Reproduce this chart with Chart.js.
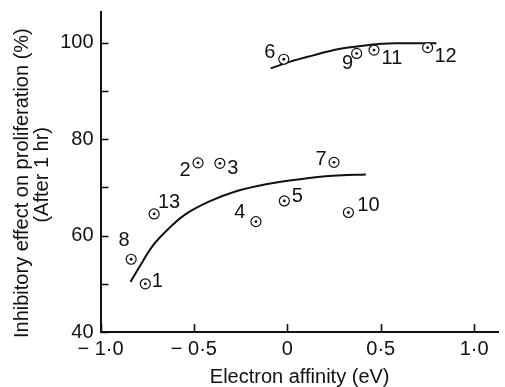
<!DOCTYPE html>
<html>
<head>
<meta charset="utf-8">
<script src="https://cdn.jsdelivr.net/npm/chart.js@4.4.0/dist/chart.umd.min.js"></script>
<style>
  html, body { margin: 0; padding: 0; background: #fff; }
  #wrap { width: 505px; height: 387px; }
</style>
</head>
<body>
<div id="wrap"><canvas id="chart" width="505" height="387"></canvas></div>
<script>
// compound points (electron affinity eV, inhibitory effect %)
var pointNames = ['1', '2', '3', '4', '5', '6', '7', '8', '9', '10', '11', '12', '13'];
var pointX = [-0.76, -0.478, -0.361, -0.168, -0.016, -0.019, 0.25, -0.836, 0.371, 0.327, 0.464, 0.751, -0.713];
var pointY = [50.0, 75.1, 75.0, 62.9, 67.2, 96.6, 75.2, 55.1, 97.8, 64.8, 98.5, 99.0, 64.5];

// fitted curves
var lowerCurveX = [-0.839, -0.792, -0.722, -0.634, -0.546, -0.423, -0.282, -0.107, 0.069, 0.245, 0.42];
var lowerCurveY = [50.4, 53.5, 57.8, 61.5, 64.4, 67.0, 69.1, 70.7, 71.7, 72.4, 72.7];
var upperCurveX = [-0.089, 0.016, 0.139, 0.262, 0.403, 0.578, 0.798];
var upperCurveY = [94.7, 96.1, 97.4, 98.6, 99.4, 99.9, 99.9];

// axis ticks
var xTicks = [-1, -0.5, 0, 0.5, 1];
var xTickLabels = ['\u2212 1\u00b70', '\u2212 0\u00b75', '0', '0\u00b75', '1\u00b70'];
var yTicks = [40, 50, 60, 70, 80, 90, 100];
var yTickLabels = ['40', '', '60', '', '80', '', '100'];

// where each number label sits relative to its point (px)
var labelOffsets = [[12, -2], [-13, 8], [13, 5], [-16, -9], [13, -4], [-14, -7], [-13, -3],
                    [-7, -19], [-9, 10], [20, -7], [18, 8], [18, 9], [15, -11]];

var FONT = '"Liberation Sans", Arial, sans-serif';
var INK = '#111';

function toXY(xs, ys) {
    var out = [];
    for (var i = 0; i < xs.length; i++) out.push({x: xs[i], y: ys[i]});
    return out;
}

// small inward tick marks like the original plot
var innerTicks = {
    id: 'innerTicks',
    afterDraw: function (chart) {
        var ctx = chart.ctx, xs = chart.scales.x, ys = chart.scales.y;
        var area = chart.chartArea;
        ctx.save();
        ctx.strokeStyle = INK;
        ctx.lineWidth = 1.6;
        ctx.beginPath();
        xTicks.forEach(function (v) {
            var px = Math.round(xs.getPixelForValue(v)) + 0.5;
            ctx.moveTo(px, area.bottom);
            ctx.lineTo(px, area.bottom - 8);
        });
        yTicks.forEach(function (v) {
            var py = Math.round(ys.getPixelForValue(v)) + 0.5;
            ctx.moveTo(area.left, py);
            ctx.lineTo(area.left + 8, py);
        });
        ctx.stroke();
        ctx.restore();
    }
};

// number labels next to each point
var pointLabels = {
    id: 'pointLabels',
    afterDatasetsDraw: function (chart) {
        var ctx = chart.ctx, xs = chart.scales.x, ys = chart.scales.y;
        ctx.save();
        ctx.fillStyle = INK;
        ctx.font = '20px ' + FONT;
        ctx.textAlign = 'center';
        ctx.textBaseline = 'middle';
        for (var i = 0; i < pointNames.length; i++) {
            var px = xs.getPixelForValue(pointX[i]) + labelOffsets[i][0];
            var py = ys.getPixelForValue(pointY[i]) + labelOffsets[i][1];
            ctx.fillText(pointNames[i], px, py);
        }
        ctx.restore();
    }
};

var ctx = document.getElementById('chart');
var chart = new Chart(ctx, {
    type: 'scatter',
    data: {
        datasets: [
            {
                type: 'line',
                order: 3,
                data: toXY(lowerCurveX, lowerCurveY),
                borderColor: INK,
                borderWidth: 2,
                pointRadius: 0,
                cubicInterpolationMode: 'monotone',
                fill: false
            },
            {
                type: 'line',
                order: 3,
                data: toXY(upperCurveX, upperCurveY),
                borderColor: INK,
                borderWidth: 2,
                pointRadius: 0,
                cubicInterpolationMode: 'monotone',
                fill: false
            },
            {
                order: 2,
                data: toXY(pointX, pointY),
                pointRadius: 5,
                pointBorderWidth: 1.2,
                pointBorderColor: INK,
                pointBackgroundColor: '#fff'
            },
            {
                order: 1,
                data: toXY(pointX, pointY),
                pointRadius: 1.4,
                pointBorderWidth: 0,
                pointBackgroundColor: INK
            }
        ]
    },
    options: {
        responsive: false,
        animation: false,
        layout: { padding: { top: 12, left: 0, right: 0, bottom: 0 } },
        plugins: {
            legend: { display: false },
            tooltip: { enabled: false }
        },
        scales: {
            x: {
                type: 'linear',
                min: -1,
                max: 1.132,
                afterFit: function (scale) { scale.height = 55; },
                afterBuildTicks: function (scale) {
                    scale.ticks = xTicks.map(function (v) { return {value: v}; });
                },
                grid: { display: false },
                border: { display: true, color: INK, width: 2 },
                ticks: {
                    autoSkip: false,
                    maxRotation: 0,
                    padding: -3,
                    color: INK,
                    font: { family: FONT, size: 20 },
                    callback: function (value, index) { return xTickLabels[index]; }
                },
                title: {
                    display: true,
                    text: 'Electron affinity (eV)',
                    color: INK,
                    font: { family: FONT, size: 20, lineHeight: 1 },
                    padding: { top: 1, bottom: 0 }
                }
            },
            y: {
                type: 'linear',
                min: 40,
                max: 106.4,
                afterFit: function (scale) { scale.width = 100.5; },
                afterBuildTicks: function (scale) {
                    scale.ticks = yTicks.map(function (v) { return {value: v}; });
                },
                grid: { display: false },
                border: { display: true, color: INK, width: 2 },
                ticks: {
                    autoSkip: false,
                    padding: -1,
                    color: INK,
                    font: { family: FONT, size: 20 },
                    callback: function (value, index) { return yTickLabels[index]; }
                },
                title: {
                    display: true,
                    text: ['Inhibitory effect on proliferation (%)    ', '(After 1 hr) '],
                    color: INK,
                    font: { family: FONT, size: 20, lineHeight: 0.97 },
                    padding: { top: 13, bottom: 0 }
                }
            }
        }
    },
    plugins: [innerTicks, pointLabels]
});
</script>
</body>
</html>
